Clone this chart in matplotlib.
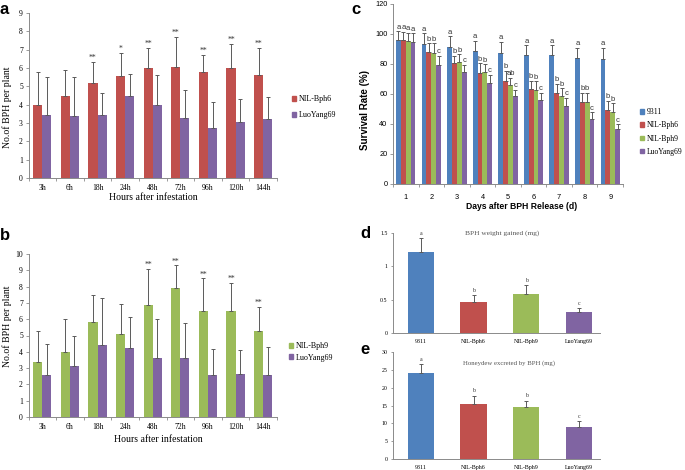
import matplotlib
matplotlib.use("Agg")
import matplotlib.pyplot as plt
import numpy as np
from matplotlib.patches import Patch

# ---------------- data ----------------
hours = ["3h", "6h", "18h", "24h", "48h", "72h", "96h", "120h", "144h"]

a_bph6 = [4.0, 4.45, 5.2, 5.55, 6.0, 6.05, 5.8, 6.0, 5.6]
a_bph6_top = [5.8, 5.9, 6.35, 6.8, 7.1, 7.7, 6.7, 7.3, 7.1]
a_ly = [3.45, 3.4, 3.45, 4.45, 4.0, 3.25, 2.72, 3.05, 3.2]
a_ly_top = [5.5, 5.5, 4.65, 5.65, 5.6, 4.8, 4.15, 4.3, 4.4]
a_sig = ["", "", "**", "*", "**", "**", "**", "**", "**"]

b_bph9 = [3.4, 4.0, 5.8, 5.1, 6.9, 7.9, 6.5, 6.5, 5.25]
b_bph9_top = [5.3, 6.0, 7.5, 6.95, 9.1, 9.3, 8.5, 8.25, 6.75]
b_ly = [2.6, 3.15, 4.4, 4.25, 3.6, 3.65, 2.6, 2.65, 2.55]
b_ly_top = [4.45, 5.0, 7.3, 6.15, 6.0, 5.75, 4.15, 4.1, 4.3]
b_sig = ["", "", "", "", "**", "**", "**", "**", "**"]

days = ["1", "2", "3", "4", "5", "6", "7", "8", "9"]
c_9311 = [96, 93.5, 91.5, 88.5, 87.5, 86, 86, 84, 83.5]
c_9311_top = [102, 100.5, 98.5, 95.5, 95, 92.5, 92.5, 91, 91]
c_bph6 = [95.8, 88, 80.5, 74, 69, 63.5, 61, 55, 49.5]
c_bph6_top = [101.5, 94, 85.5, 80.5, 75.5, 69, 67, 61, 55.5]
c_bph9 = [95.2, 87.5, 81.5, 74.5, 66, 62.5, 59, 54.5, 48]
c_bph9_top = [101, 94, 86.5, 80, 71, 68.5, 64, 61, 54]
c_ly = [95, 79.5, 74.5, 67.5, 58.5, 56, 52, 43.5, 36.5]
c_ly_top = [100.5, 85.5, 79.5, 73, 63, 61, 57.5, 48, 40]
c_letters = [
    ["a", "a", "a", "a"],
    ["a", "b", "b", "c"],
    ["a", "b", "b", "c"],
    ["a", "b", "b", "c"],
    ["a", "b", "ab", "c"],
    ["a", "b", "b", "c"],
    ["a", "b", "b", "c"],
    ["a", "b", "b", "c"],
    ["a", "b", "b", "c"],
]

lines = ["9311", "NIL-Bph6", "NIL-Bph9", "LuoYang69"]
d_vals = [1.22, 0.47, 0.59, 0.32]
d_top = [1.42, 0.57, 0.72, 0.37]
d_letters = ["a", "b", "b", "c"]
e_vals = [24.1, 15.3, 14.6, 8.9]
e_top = [26.5, 17.8, 16.3, 10.6]
e_letters = ["a", "b", "b", "c"]

# ---------------- style ----------------
BLUE = "#4F81BD"
RED = "#C0504D"
GREEN = "#9BBB59"
PURPLE = "#8064A2"
ERR = "#5a5a5a"
AX = "#8a8a8a"
SERIF = "Liberation Serif"
SANS = "Liberation Sans"

fig = plt.figure(figsize=(6.85, 4.70), dpi=100)


def W(x):
    return x / 685.0


def H(y):
    return 1 - y / 470.0


def make_ax(l, r, t, b):
    ax = fig.add_axes([W(l), H(b), W(r) - W(l), H(t) - H(b)])
    for s in ["top", "right"]:
        ax.spines[s].set_visible(False)
    for s in ["left", "bottom"]:
        ax.spines[s].set_color(AX)
        ax.spines[s].set_linewidth(0.7)
    ax.tick_params(axis="y", direction="out", length=2, width=0.6, color=AX, pad=2)
    ax.tick_params(axis="x", length=0, pad=3)
    return ax


def errbars(ax, x, v, top):
    v = np.array(v)
    top = np.array(top)
    ax.errorbar(x, v, yerr=[np.zeros_like(v), top - v], fmt="none",
                ecolor=ERR, elinewidth=0.7, capsize=1.3, capthick=0.7, zorder=3)


def legend(handles, x, y, size, spacing):
    fig.legend(handles=handles, loc="center left", bbox_to_anchor=(W(x), H(y)),
               frameon=False, prop={"family": SERIF, "size": size},
               handlelength=0.55, handleheight=0.55, handletextpad=0.3,
               labelspacing=spacing, borderpad=0, borderaxespad=0)


def group_panel(ax, s1, s1top, s2, s2top, sig, c1, ymax):
    n = len(hours)
    x = np.arange(n)
    w = 0.33
    ax.bar(x - w / 2, s1, w, color=c1, zorder=2)
    ax.bar(x + w / 2, s2, w, color=PURPLE, zorder=2)
    errbars(ax, x - w / 2, s1, s1top)
    errbars(ax, x + w / 2, s2, s2top)
    for xi, t, s in zip(x - w / 2, s1top, sig):
        if s:
            ax.text(xi, t, s, ha="center", va="bottom",
                    fontsize=5.5, family=SERIF, color="#333333")
    ax.set_xlim(-0.5, n - 0.5)
    ax.set_ylim(0, ymax)
    ax.set_yticks(range(0, ymax + 1))
    ax.set_xticks(x)
    ax.set_xticklabels(hours, family=SERIF, fontsize=5.5)
    for lab in ax.get_yticklabels():
        lab.set_family(SERIF)
        lab.set_fontsize(5.5)
    ax.set_xticks(np.arange(n + 1) - 0.5, minor=True)
    ax.tick_params(axis="x", which="minor", length=2, color=AX, width=0.6)
    ax.tick_params(axis="x", which="major", pad=4.5)


# ---------- panel a ----------
axa = make_ax(28.5, 277, 13, 178)
group_panel(axa, a_bph6, a_bph6_top, a_ly, a_ly_top, a_sig, RED, 9)
fig.text(W(153), H(198), "Hours after infestation", family=SERIF, fontsize=7,
         ha="center", va="center")
fig.text(W(7), H(107), "No.of BPH per plant", family=SERIF, fontsize=7,
         ha="center", va="center", rotation=90)
legend([Patch(color=RED, label="NIL-Bph6"), Patch(color=PURPLE, label="LuoYang69")],
       292, 107, 5.8, 1.0)
fig.text(W(0), H(10), "a", fontsize=12, fontweight="bold", family=SANS, va="center")

# ---------- panel b ----------
axb = make_ax(28.5, 277, 254, 417)
group_panel(axb, b_bph9, b_bph9_top, b_ly, b_ly_top, b_sig, GREEN, 10)
fig.text(W(158), H(439), "Hours after infestation", family=SERIF, fontsize=7,
         ha="center", va="center")
fig.text(W(7), H(326), "No.of BPH per plant", family=SERIF, fontsize=7,
         ha="center", va="center", rotation=90)
legend([Patch(color=GREEN, label="NIL-Bph9"), Patch(color=PURPLE, label="LuoYang69")],
       289, 352, 5.8, 0.4)
fig.text(W(0), H(235), "b", fontsize=12, fontweight="bold", family=SANS, va="center")

# ---------- panel c ----------
axc = make_ax(393, 623, 4, 184)
n = len(days)
x = np.arange(n)
w = 0.19
series = [(c_9311, c_9311_top, BLUE), (c_bph6, c_bph6_top, RED),
          (c_bph9, c_bph9_top, GREEN), (c_ly, c_ly_top, PURPLE)]
for k, (v, top, col) in enumerate(series):
    xs = x + (k - 1.5) * w
    axc.bar(xs, v, w, color=col, zorder=2)
    errbars(axc, xs, v, top)
    for i in range(n):
        axc.text(xs[i], top[i] + 0.3, c_letters[i][k], ha="center", va="bottom",
                 fontsize=5.5, family=SANS, color="#333333")
axc.set_xlim(-0.5, n - 0.5)
axc.set_ylim(0, 120)
axc.set_yticks(range(0, 121, 20))
axc.set_xticks(x)
axc.set_xticklabels(days, family=SANS, fontsize=5.3)
for lab in axc.get_yticklabels():
    lab.set_family(SANS)
    lab.set_fontsize(5.3)
axc.set_xticks(np.arange(n + 1) - 0.5, minor=True)
axc.tick_params(axis="x", which="minor", length=2, color=AX, width=0.6)
axc.tick_params(axis="x", which="major", pad=7)
fig.text(W(522), H(206), "Days after BPH Release (d)", family=SANS, fontsize=6.2,
         fontweight="bold", ha="center", va="center")
fig.text(W(365), H(110), "Survival Rate (%)", family=SANS, fontsize=7,
         fontweight="bold", ha="center", va="center", rotation=90)
legend([Patch(color=c, label=l) for (_, _, c), l in zip(series, lines)],
       640, 132, 5.5, 0.68)
fig.text(W(351), H(10), "c", fontsize=12, fontweight="bold", family=SANS, va="center")


# ---------- panels d, e ----------
def single_panel(ax, vals, top, letters, ymax, step, title, tick_fmt, title_size):
    xs = np.arange(len(lines))
    cols = [BLUE, RED, GREEN, PURPLE]
    ax.bar(xs, vals, 0.5, color=cols, zorder=2)
    errbars(ax, xs, vals, top)
    for xi, t, l in zip(xs, top, letters):
        ax.text(xi, t + ymax * 0.025, l, ha="center", va="bottom",
                fontsize=4.2, family=SERIF, color="#333333")
    ax.set_xlim(-0.53, len(lines) - 0.6)
    ax.set_ylim(0, ymax)
    ticks = np.arange(0, ymax + step / 2, step)
    ax.set_yticks(ticks)
    ax.set_yticklabels([tick_fmt(t) for t in ticks], family=SERIF, fontsize=4.2)
    ax.set_xticks(xs)
    ax.set_xticklabels(lines, family=SERIF, fontsize=4.3)
    ax.tick_params(axis="y", length=1.8, pad=2)
    ax.tick_params(axis="x", pad=4)
    ax.text(72 / 207, 1.0, title, transform=ax.transAxes, ha="left", va="center",
            fontsize=title_size, family=SERIF, color="#555555")


axd = make_ax(393, 600, 233, 333)
single_panel(axd, d_vals, d_top, d_letters, 1.5, 0.5, "BPH weight gained (mg)",
             lambda t: "%g" % t, 5.3)
fig.text(W(360), H(233), "d", fontsize=12, fontweight="bold", family=SANS, va="center")

axe = make_ax(393, 600, 352, 459)
single_panel(axe, e_vals, e_top, e_letters, 30, 5, "Honeydew excreted by BPH (mg)",
             lambda t: "%d" % t, 4.9)
axe.texts[-1].set_position((70 / 207, (459 - 363) / 107))
fig.text(W(360), H(350), "e", fontsize=12, fontweight="bold", family=SANS, va="center")

fig.savefig("out.png", dpi=100)
